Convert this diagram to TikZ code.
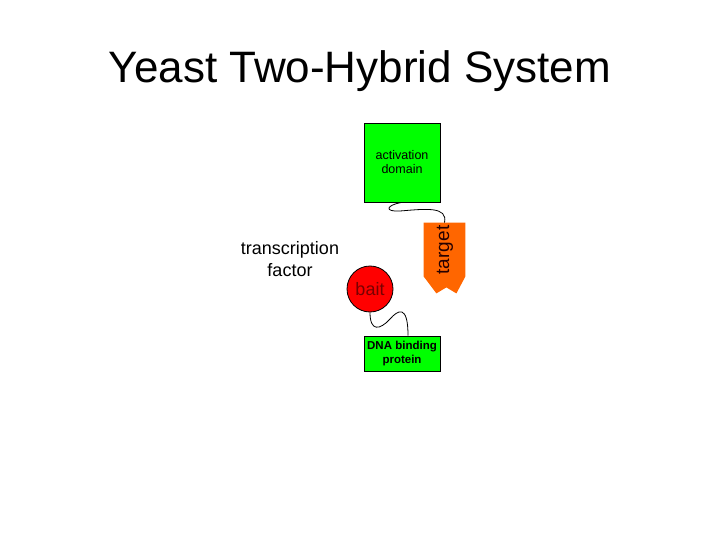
\documentclass[tikz,border=0pt]{standalone}
\usepackage{fontspec}
\setmainfont{Liberation Sans}
\usetikzlibrary{positioning}
\definecolor{domaingreen}{RGB}{0,255,0}
\definecolor{targetorange}{RGB}{255,102,0}
\definecolor{baitred}{RGB}{255,0,0}
\definecolor{baittext}{RGB}{120,0,0}

\begin{document}
\begin{tikzpicture}[x=1pt, y=-1pt, line width=0.8pt,
  protbox/.style = {draw, fill=domaingreen, minimum width=76pt, inner sep=0, align=center}]
\useasboundingbox (0,0) rectangle (720,540);
\node[anchor=base, font=\fontsize{44}{52}\selectfont] (title) at (360,83) {Yeast Two-Hybrid System};
\node[align=center, font=\fontsize{18}{22}\selectfont] (tf) at (290,259) {transcription\\factor};
% the two halves
\node[protbox, minimum height=79pt, font=\fontsize{12.5}{14}\selectfont] (actdom) at (402,162.5) {activation\\domain};
\node[protbox, minimum height=35pt, font=\bfseries\fontsize{11.5}{14}\selectfont] (dnabd) at (402,353.5) {DNA binding\\protein};
\node[minimum width=41pt, minimum height=53pt, inner sep=0] (target) at (444.5,249.5) {};
\fill[targetorange] (target.north west) -- (target.north east) -- (target.south east) -- ++(-9,17) -- ++(-5,-3) -- ++(-5,-3) -- ++(-5,3) -- ++(-5,3) -- (target.south west) -- cycle;
\node[rotate=90, font=\fontsize{19}{22}\selectfont, text=black!85!red] (targetlbl) at (445,250) {target};
\node[circle, draw, fill=baitred, minimum size=46pt, inner sep=0, text=baittext, font=\fontsize{18}{20}\selectfont] (bait) at (370,289) {bait};
% linkers
\draw (actdom.south) .. controls (386,205) and (384,212) .. (400,211) .. controls (425,209) and (448,206) .. (target.north);
\draw (bait.south) .. controls (370,332) and (380,330) .. (390,319) .. controls (398,310) and (408,304) .. ([xshift=6pt]dnabd.north);
\end{tikzpicture}
\end{document}
